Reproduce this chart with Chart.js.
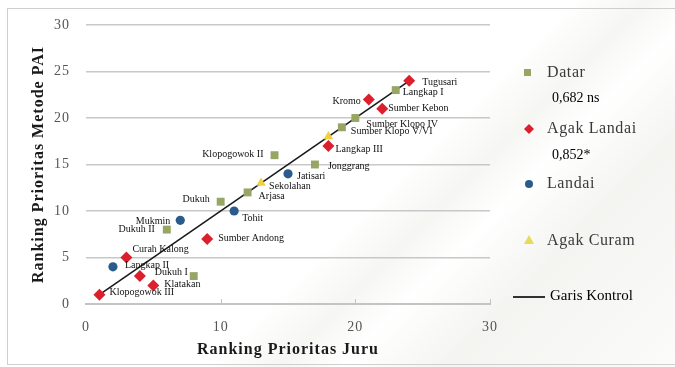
<!DOCTYPE html>
<html>
<head>
<meta charset="utf-8">
<script src="https://cdn.jsdelivr.net/npm/chart.js@4"></script>
<style>
  html, body { margin: 0; padding: 0; background: #fff; }
  #wrap { position: relative; width: 675px; height: 367px; overflow: hidden;
    background: linear-gradient(135deg, #ffffff 0%, #ffffff 55%, #f6f6f3 62%, #ffffff 68%, #f4f4f1 78%, #fbfbf9 100%); }
  #frame { position: absolute; left: 7px; top: 8px; width: 700px; height: 357px; border: 1px solid #cfcfcf; box-sizing: border-box; }
  canvas { position: absolute; left: 0; top: 0; }
</style>
</head>
<body>
<div id="wrap">
  <div id="frame"></div>
  <canvas id="c" width="675" height="367"></canvas>
</div>
<script>
// ---- Data ----
const datarNames = ["Klopogowok II", "Jonggrang", "Arjasa", "Sumber Klopo IV", "Sumber Klopo V/VI", "Langkap I", "Dukuh", "Dukuh II", "Dukuh I"];
const datarX = [14, 17, 12, 20, 19, 23, 10, 6, 8];
const datarY = [16, 15, 12, 20, 19, 23, 11, 8, 3];

const agakLandaiNames = ["Tugusari", "Kromo", "Sumber Kebon", "Langkap III", "Sumber Andong", "Curah Kalong", "", "Klatakan", "Klopogowok III"];
const agakLandaiX = [24, 21, 22, 18, 9, 3, 4, 5, 1];
const agakLandaiY = [24, 22, 21, 17, 7, 5, 3, 2, 1];

const landaiNames = ["Jatisari", "Tohit", "Mukmin", "Langkap II"];
const landaiX = [15, 11, 7, 2];
const landaiY = [14, 10, 9, 4];

const agakCuramNames = ["Sekolahan", ""];
const agakCuramX = [13, 18];
const agakCuramY = [13, 18];

const kontrolX = [1, 24];
const kontrolY = [1, 24];

const xTicks = [0, 10, 20, 30];
const yTicks = [0, 5, 10, 15, 20, 25, 30];

const seriesNames = ["Datar", "Agak Landai", "Landai", "Agak Curam", "Garis Kontrol"];
const corrLabels = ["0,682 ns", "0,852*"];

// ---- label placement (text offsets from the point) ----
const labelPlace = {
  "Tugusari": [13, 2, "left"], "Langkap I": [7, 2, "left"], "Kromo": [-8, 2, "right"],
  "Sumber Kebon": [6, 0, "left"], "Sumber Klopo IV": [11, 6, "left"], "Sumber Klopo V/VI": [9, 4, "left"],
  "Langkap III": [7, 3, "left"], "Jonggrang": [13, 2, "left"], "Klopogowok II": [-11, -1, "right"],
  "Jatisari": [9, 3, "left"], "Sekolahan": [8, 3, "left"], "Arjasa": [11, 4, "left"],
  "Dukuh": [-11, -2, "right"], "Tohit": [8, 7, "left"], "Mukmin": [-10, 1, "right"],
  "Dukuh II": [-12, 0, "right"], "Sumber Andong": [11, -1, "left"], "Curah Kalong": [6, -8, "left"],
  "Langkap II": [12, -1, "left"], "Dukuh I": [-6, -4, "right"], "Klatakan": [11, -1, "left"],
  "Klopogowok III": [10, -2, "left"]
};

const pts = (xs, ys) => xs.map((x, i) => ({ x: x, y: ys[i] }));

const COL = { datar: "#97a565", red: "#dc1f2c", blue: "#2b5b8c", yellow: "#f0d040" };

const spacingPlugin = {
  id: "spacing",
  beforeDraw(chart) { try { chart.ctx.letterSpacing = "1px"; } catch (e) {} },
  beforeDatasetsDraw(chart) {
    try { chart.ctx.letterSpacing = "0px"; } catch (e) {}
    // small tick marks on the x axis (inside)
    const ctx = chart.ctx, xs = chart.scales.x, b = chart.chartArea.bottom;
    ctx.save();
    ctx.strokeStyle = "#c4c4c4"; ctx.lineWidth = 1;
    xTicks.slice(1).forEach(v => {
      const px = Math.round(xs.getPixelForValue(v)) + 0.5;
      ctx.beginPath(); ctx.moveTo(px, b - 5); ctx.lineTo(px, b); ctx.stroke();
    });
    ctx.restore();
  }
};

const labelPlugin = {
  id: "pointLabels",
  afterDatasetsDraw(chart) {
    const ctx = chart.ctx;
    const nameSets = [datarNames, agakLandaiNames, landaiNames, agakCuramNames];
    ctx.save();
    try { ctx.letterSpacing = "0px"; } catch (e) {}
    ctx.font = "10px 'Liberation Serif'";
    ctx.fillStyle = "#111";
    ctx.textBaseline = "middle";
    nameSets.forEach((names, di) => {
      const meta = chart.getDatasetMeta(di);
      meta.data.forEach((el, i) => {
        const n = names[i];
        if (!n) return;
        const p = labelPlace[n] || [8, 0, "left"];
        ctx.textAlign = p[2];
        ctx.fillText(n, el.x + p[0], el.y + p[1]);
      });
    });
    ctx.restore();
  }
};

const legendPlugin = {
  id: "customLegend",
  afterDraw(chart) {
    const ctx = chart.ctx;
    ctx.save();
    ctx.textBaseline = "middle";
    ctx.textAlign = "left";
    ctx.fillStyle = COL.datar;
    ctx.fillRect(524, 69, 7, 7);
    ctx.fillStyle = COL.red;
    ctx.beginPath(); ctx.moveTo(529, 124); ctx.lineTo(534, 129); ctx.lineTo(529, 134); ctx.lineTo(524, 129); ctx.closePath(); ctx.fill();
    ctx.fillStyle = COL.blue;
    ctx.beginPath(); ctx.arc(529, 184, 4, 0, Math.PI * 2); ctx.fill();
    ctx.fillStyle = "#e6dc5a";
    ctx.beginPath(); ctx.moveTo(529, 235); ctx.lineTo(534, 244); ctx.lineTo(524, 244); ctx.closePath(); ctx.fill();
    ctx.strokeStyle = "#000"; ctx.lineWidth = 1.6;
    ctx.beginPath(); ctx.moveTo(513, 297); ctx.lineTo(545, 297); ctx.stroke();

    ctx.font = "16px 'Liberation Serif'";
    ctx.fillStyle = "#3a3a3a";
    try { ctx.letterSpacing = "0.6px"; } catch (e) {}
    ctx.fillText(seriesNames[0], 547, 73);
    ctx.fillText(seriesNames[1], 547, 129);
    ctx.fillText(seriesNames[2], 547, 184);
    ctx.fillText(seriesNames[3], 547, 241);
    try { ctx.letterSpacing = "0px"; } catch (e) {}
    ctx.font = "14px 'Liberation Serif'";
    ctx.fillStyle = "#000";
    ctx.fillText(corrLabels[0], 552, 98);
    ctx.fillText(corrLabels[1], 552, 155);
    ctx.font = "15px 'Liberation Serif'";
    ctx.fillText(seriesNames[4], 550, 296);
    ctx.restore();
  }
};

new Chart(document.getElementById("c"), {
  type: "scatter",
  data: {
    datasets: [
      { label: seriesNames[0], data: pts(datarX, datarY), pointStyle: "rect", pointRadius: 5.6, pointHoverRadius: 5.6,
        backgroundColor: COL.datar, borderColor: COL.datar, borderWidth: 0 },
      { label: seriesNames[1], data: pts(agakLandaiX, agakLandaiY), pointStyle: "rectRot", pointRadius: 6, pointHoverRadius: 6,
        backgroundColor: COL.red, borderColor: COL.red, borderWidth: 0 },
      { label: seriesNames[2], data: pts(landaiX, landaiY), pointStyle: "circle", pointRadius: 4.6, pointHoverRadius: 4.6,
        backgroundColor: COL.blue, borderColor: COL.blue, borderWidth: 0 },
      { label: seriesNames[3], data: pts(agakCuramX, agakCuramY), pointStyle: "triangle", pointRadius: 5.5, pointHoverRadius: 5.5,
        backgroundColor: COL.yellow, borderColor: COL.yellow, borderWidth: 0 },
      { type: "line", label: seriesNames[4], data: pts(kontrolX, kontrolY), borderColor: "#1a1a1a", borderWidth: 1.6,
        pointRadius: 0, fill: false, showLine: true }
    ]
  },
  options: {
    responsive: false,
    animation: false,
    events: [],
    layout: { padding: { left: 0, top: 25, right: 185, bottom: 0 } },
    plugins: { legend: { display: false }, tooltip: { enabled: false } },
    scales: {
      x: {
        type: "linear", min: 0, max: 30,
        afterBuildTicks: s => { s.ticks = xTicks.map(v => ({ value: v })); },
        afterFit: s => { s.height = 63; },
        grid: { drawOnChartArea: false, drawTicks: false },
        border: { display: true, color: "#c4c4c4", width: 2 },
        ticks: { padding: 15, color: "#555", font: { family: "'Liberation Serif'", size: 14 } },
        title: { display: true, text: "Ranking Prioritas Juru", color: "#1a1a1a",
          font: { family: "'Liberation Serif'", size: 16, weight: "bold" }, padding: { top: 8, bottom: 8 } }
      },
      y: {
        type: "linear", min: 0, max: 30,
        afterBuildTicks: s => { s.ticks = yTicks.map(v => ({ value: v })); },
        afterFit: s => { s.width = 86; },
        grid: { color: "#c8c8c8", lineWidth: 1.6, drawTicks: false },
        border: { display: false },
        ticks: { padding: 16, color: "#555", font: { family: "'Liberation Serif'", size: 14 } },
        title: { display: true, text: "Ranking Prioritas Metode PAI", color: "#1a1a1a",
          font: { family: "'Liberation Serif'", size: 16, weight: "bold" }, padding: { top: 29, bottom: 0 } }
      }
    }
  },
  plugins: [spacingPlugin, labelPlugin, legendPlugin]
});
</script>
</body>
</html>
